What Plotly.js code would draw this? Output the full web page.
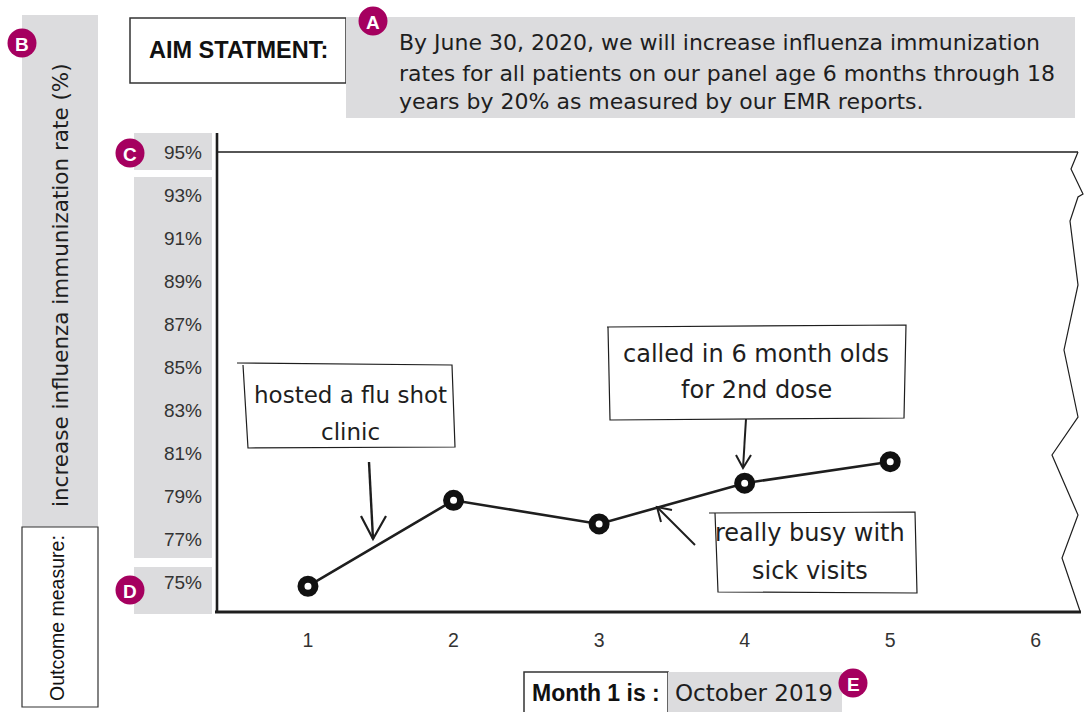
<!DOCTYPE html>
<html>
<head>
<meta charset="utf-8">
<script src="https://cdn.plot.ly/plotly-3.0.1.min.js"></script>
<style>html,body{margin:0;padding:0;background:#fff;}#chart{width:1085px;height:712px;}</style>
</head>
<body>
<div id="chart"></div>
<script>
// ---- data ----
const months = [1, 2, 3, 4, 5];
const rates = [74.8, 78.8, 77.7, 79.6, 80.6];
const xTickVals = [1, 2, 3, 4, 5, 6];
const yTickVals = [75, 77, 79, 81, 83, 85, 87, 89, 91, 93, 95];
const yTickText = yTickVals.map(v => v + '%');
const aimLabel = 'AIM STATMENT:';
const aimLines = ['By June 30, 2020, we will increase influenza immunization',
                  'rates for all patients on our panel age 6 months through 18',
                  'years by 20% as measured by our EMR reports.'];
const yTitle = 'increase influenza immunization rate (%)';
const outcomeLabel = 'Outcome measure:';
const monthLabel = 'Month 1 is :';
const monthValue = 'October 2019';
const note1 = ['hosted a flu shot', 'clinic'];
const note2 = ['called in 6 month olds', 'for 2nd dose'];
const note3 = ['really busy with', 'sick visits'];
const letters = ['A', 'B', 'C', 'D', 'E'];

// ---- geometry helpers (pixel -> paper) ----
const L = 217, R = 1078, T = 152, B = 612;
const px = x => (x - L) / (R - L);
const py = y => (B - y) / (B - T);
const GRAY = '#dcdcde', INK = '#1e1e1e', MAG = '#a5005f';
const HAND = 'DejaVu Sans, Noto Sans, sans-serif';
const SANS = 'Liberation Sans, Arial, Helvetica, sans-serif';

const shapes = [];
function rect(x0, y0, x1, y1, fill, lw) {
  shapes.push({type: 'rect', xref: 'paper', yref: 'paper', layer: 'below',
    x0: px(x0), x1: px(x1), y0: py(y1), y1: py(y0),
    fillcolor: fill, line: {width: lw || 0, color: '#333'}});
}
function path(pts, w, closed) {
  let d = pts.map((p, i) => (i ? 'L' : 'M') + px(p[0]).toFixed(5) + ',' + py(p[1]).toFixed(5)).join(' ');
  if (closed) d += ' Z';
  shapes.push({type: 'path', xref: 'paper', yref: 'paper', path: d,
    line: {color: INK, width: w}, fillcolor: 'rgba(0,0,0,0)'});
}
function circ(cx, cy, r) {
  shapes.push({type: 'circle', xref: 'paper', yref: 'paper',
    x0: px(cx - r), x1: px(cx + r), y0: py(cy + r), y1: py(cy - r),
    fillcolor: MAG, line: {width: 0}});
}

// gray panels / boxes
rect(22, 15, 98, 527, GRAY);
rect(22, 527, 98, 707, '#ffffff', 1.2);
rect(134, 133, 212, 170, GRAY);
rect(134, 177, 212, 558, GRAY);
rect(134, 567, 212, 614, GRAY);
rect(130, 18, 346, 83, '#ffffff', 1.5);
rect(346, 17, 1075, 118, GRAY);
rect(524, 672, 668, 714, '#ffffff', 1.5);
rect(668, 672, 842, 712, GRAY);

// frame lines
path([[217, 133], [217, 613]], 2.6);
path([[215, 612], [1081, 612]], 3.2);
path([[217, 152], [1078, 152]], 1.4);
path([[1078, 152], [1071, 169], [1083, 194], [1078, 197], [1070, 221], [1078, 285],
      [1064, 350], [1078, 417], [1052, 455], [1078, 515], [1062, 558], [1080, 611]], 1.2);

// sketchy note boxes
path([[237, 363], [452, 365], [455, 447], [248, 448], [243, 365]], 1.2);
path([[607, 327], [906, 325], [904, 418], [610, 420], [608, 327]], 1.2);
path([[709, 513], [915, 512], [917, 593], [718, 592], [715, 513]], 1.2);

// arrows
path([[369, 462], [373, 539]], 2.4);
path([[361, 516], [373, 539], [386, 516]], 2.2);
path([[746, 419], [743, 468]], 2);
path([[736, 455], [743, 468], [751, 455]], 2);
path([[695, 545], [657, 507]], 2);
path([[661, 522], [657, 507], [672, 510]], 2);

// letter badges
const badgePos = [[373, 21], [22, 43], [130, 153], [130, 590], [853, 683]];
badgePos.forEach(p => circ(p[0], p[1], 14.5));

const annotations = [];
function txt(text, x, y, opts) {
  annotations.push(Object.assign({text: text, xref: 'paper', yref: 'paper',
    x: px(x), y: py(y), showarrow: false, xanchor: 'center', yanchor: 'middle',
    font: {family: HAND, size: 23, color: INK}}, opts || {}));
}
letters.forEach((l, i) => txt('<b>' + l + '</b>', badgePos[i][0], badgePos[i][1] + 1,
  {font: {family: SANS, size: 19, color: '#ffffff'}}));

txt('<b>' + aimLabel + '</b>', 238, 50, {font: {family: SANS, size: 23.5, color: '#111'}});
aimLines.forEach((s, i) => txt(s, 397, [43, 73, 102][i], {xanchor: 'left', font: {family: HAND, size: 22, color: INK}}));
txt(yTitle, 60, 285, {textangle: -90, font: {family: HAND, size: 21.5, color: INK}});
txt(outcomeLabel, 57, 618, {textangle: -90, font: {family: SANS, size: 19.5, color: '#111'}});
txt('<b>' + monthLabel + '</b>', 596, 693, {font: {family: SANS, size: 23, color: '#111'}});
txt(monthValue, 754, 693, {font: {family: HAND, size: 23, color: INK}});

note1.forEach((s, i) => txt(s, 350, [395, 432][i]));
note2.forEach((s, i) => txt(s, 756, [354, 390][i], {font: {family: HAND, size: 24, color: INK}}));
note3.forEach((s, i) => txt(s, 810, [533, 571][i], {font: {family: HAND, size: 24, color: INK}}));

const trace = {
  x: months, y: rates, type: 'scatter', mode: 'lines+markers',
  line: {color: INK, width: 2.6},
  marker: {symbol: 'circle', size: 14, color: '#ffffff', line: {color: '#111', width: 7}},
  hoverinfo: 'x+y'
};

const layout = {
  width: 1085, height: 712,
  margin: {l: L, r: 1085 - R, t: T, b: 712 - B, pad: 0},
  paper_bgcolor: '#ffffff', plot_bgcolor: '#ffffff',
  showlegend: false,
  xaxis: {range: [0.375, 6.29], tickvals: xTickVals, ticktext: xTickVals.map(String),
    showgrid: false, zeroline: false, showline: false, ticks: '',
    ticklabelstandoff: 14, tickfont: {family: SANS, size: 19.5, color: '#333'}},
  yaxis: {range: [73.6, 95.02], tickvals: yTickVals, ticktext: yTickText,
    showgrid: false, zeroline: false, showline: false, ticks: '',
    ticklabelstandoff: 14, tickfont: {family: SANS, size: 19, color: '#333'}},
  shapes: shapes,
  annotations: annotations
};

Plotly.newPlot('chart', [trace], layout, {displayModeBar: false, staticPlot: true});
</script>
</body>
</html>
